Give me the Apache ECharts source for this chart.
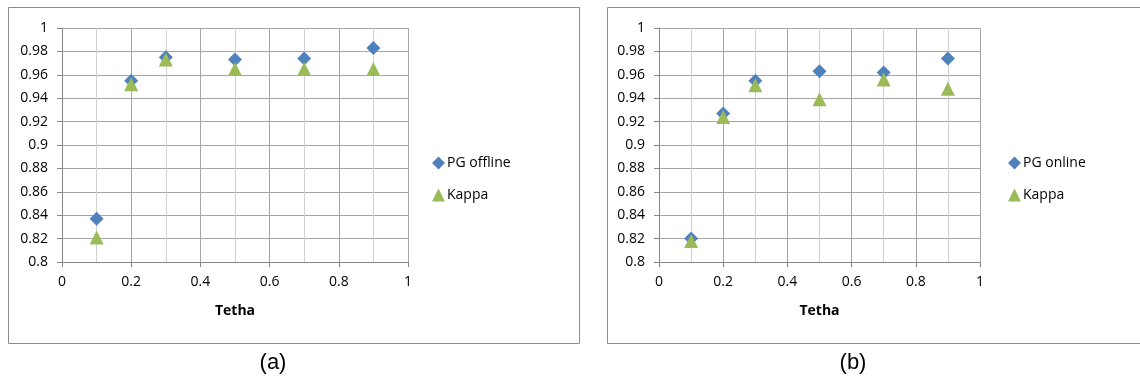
<!DOCTYPE html>
<html>
<head>
<meta charset="utf-8">
<script src="https://cdn.jsdelivr.net/npm/echarts@6/dist/echarts.min.js"></script>
<style>
html,body{margin:0;padding:0;background:#fff;}
#c{width:1140px;height:381px;}
</style>
</head>
<body>
<div id="c"></div>
<script>
const tetha = [0.1, 0.2, 0.3, 0.5, 0.7, 0.9];
const pgOffline = [0.837, 0.955, 0.975, 0.973, 0.974, 0.983];
const kappaA   = [0.821, 0.952, 0.973, 0.965, 0.965, 0.965];
const pgOnline = [0.820, 0.927, 0.955, 0.963, 0.962, 0.974];
const kappaB   = [0.818, 0.924, 0.951, 0.939, 0.956, 0.948];
const seriesNamesA = ['PG offline', 'Kappa'];
const seriesNamesB = ['PG online', 'Kappa'];
const xAxisRange = {min: 0, max: 1, interval: 0.2};
const yAxisRange = {min: 0.8, max: 1, interval: 0.02};
const panelLabels = ['(a)', '(b)'];
const xTitle = 'Tetha';

const BLUE = '#4F81BD', GREEN = '#9BBB59';
const FONT = 'Open Sans';
function pts(xs, ys){ return xs.map((x,i)=>[x, ys[i]]); }

function xAxis(gi){
  return {
    type:'value', gridIndex:gi, min:xAxisRange.min, max:xAxisRange.max, interval:xAxisRange.interval,
    name:xTitle, nameLocation:'middle', nameGap:42,
    nameTextStyle:{fontFamily:FONT, fontWeight:'bold', fontSize:14, color:'#000'},
    axisLine:{show:true, lineStyle:{color:'#868686', width:1}},
    axisTick:{show:true, length:5, lineStyle:{color:'#868686'}},
    axisLabel:{fontFamily:FONT, fontSize:14, color:'#000', margin:13},
    splitLine:{show:true, lineStyle:{color:'#a6a6a6', width:1}},
    minorTick:{show:false, splitNumber:2},
    minorSplitLine:{show:true, lineStyle:{color:'#d0d0d0', width:1}}
  };
}
function yAxis(gi){
  return {
    type:'value', gridIndex:gi, min:yAxisRange.min, max:yAxisRange.max, interval:yAxisRange.interval,
    axisLine:{show:true, lineStyle:{color:'#868686', width:1}},
    axisTick:{show:true, length:5, lineStyle:{color:'#868686'}},
    axisLabel:{fontFamily:FONT, fontSize:14, color:'#000', margin:14},
    splitLine:{show:true, lineStyle:{color:'#a6a6a6', width:1}}
  };
}
function sc(name, gi, data, sym, color, size){
  return {type:'scatter', name:name, xAxisIndex:gi, yAxisIndex:gi, data:data,
    symbol:sym, symbolSize:size, itemStyle:{color:color, opacity:1}, z:sym==='triangle'?3:2};
}

const chart = echarts.init(document.getElementById('c'), null, {renderer:'canvas'});
chart.setOption({
  animation:false,
  backgroundColor:'#fff',
  grid:[
    {left:62, top:28, width:346, height:234},
    {left:659, top:28, width:321, height:234}
  ],
  xAxis:[xAxis(0), xAxis(1)],
  yAxis:[yAxis(0), yAxis(1)],
  legend:[
    {orient:'vertical', left:427, top:151, itemGap:18, itemWidth:13, itemHeight:13,
     textStyle:{fontFamily:FONT, fontSize:14, color:'#000', padding:[0,0,0,-3]},
     data:[{name:seriesNamesA[0], icon:'diamond'}, {name:'Kappa', icon:'triangle'}],
     selectedMode:false},
    {orient:'vertical', left:1003, top:151, itemGap:18, itemWidth:13, itemHeight:13,
     textStyle:{fontFamily:FONT, fontSize:14, color:'#000', padding:[0,0,0,-3]},
     data:[{name:seriesNamesB[0], icon:'diamond'}, {name:'Kappa ', icon:'triangle'}],
     selectedMode:false}
  ],
  series:[
    sc(seriesNamesA[0], 0, pts(tetha, pgOffline), 'diamond', BLUE, 14),
    sc(seriesNamesA[1], 0, pts(tetha, kappaA), 'triangle', GREEN, 14),
    sc(seriesNamesB[0], 1, pts(tetha, pgOnline), 'diamond', BLUE, 14),
    sc('Kappa ', 1, pts(tetha, kappaB), 'triangle', GREEN, 14)
  ],
  graphic:[
    {type:'rect', shape:{x:8.5, y:7.5, width:571, height:336}, style:{fill:'none', stroke:'#8c8c8c', lineWidth:1}, silent:true, z:-1},
    {type:'rect', shape:{x:607.5, y:7.5, width:540, height:336}, style:{fill:'none', stroke:'#8c8c8c', lineWidth:1}, silent:true, z:-1},
    {type:'text', style:{text:panelLabels[0], x:273, y:363, align:'center', verticalAlign:'middle', font:'22px "Liberation Sans", Arial', fill:'#000'}, silent:true},
    {type:'text', style:{text:panelLabels[1], x:853, y:363, align:'center', verticalAlign:'middle', font:'22px "Liberation Sans", Arial', fill:'#000'}, silent:true}
  ]
});
</script>
</body>
</html>
